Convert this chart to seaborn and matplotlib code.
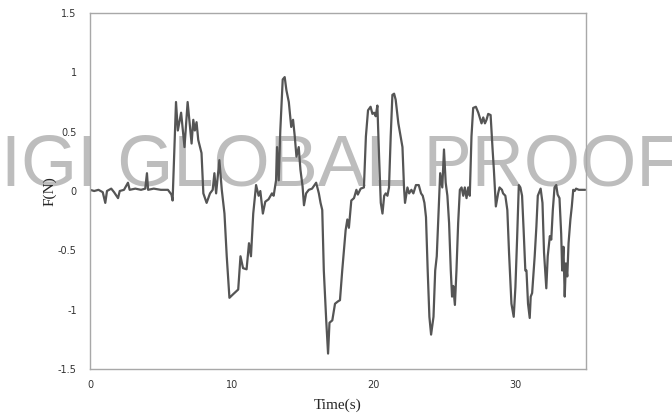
import matplotlib
matplotlib.use('Agg')
import matplotlib.pyplot as plt
import seaborn as sns
import pandas as pd

# force signal
time_s = [0.0, 0.3, 0.6, 0.9, 1.08, 1.2, 1.5, 1.7, 1.98, 2.1, 2.4, 2.68, 2.8, 3.2, 3.6, 3.9,
          4.02, 4.1, 4.5, 5.0, 5.5, 5.75, 5.83, 6.07, 6.2, 6.43, 6.67, 6.89, 7.17, 7.29, 7.4,
          7.52, 7.64, 7.87, 8.0, 8.23, 8.47, 8.66, 8.78, 8.9, 9.13, 9.3, 9.49, 9.65, 9.84,
          10.1, 10.46, 10.62, 10.8, 11.05, 11.22, 11.36, 11.52, 11.72, 11.9, 12.02, 12.2,
          12.37, 12.6, 12.84, 12.96, 13.13, 13.2, 13.32, 13.43, 13.6, 13.74, 13.86, 14.03,
          14.2, 14.33, 14.45, 14.57, 14.73, 14.85, 15.0, 15.1, 15.25, 15.44, 15.67, 15.96,
          16.15, 16.27, 16.39, 16.5, 16.67, 16.8, 16.9, 17.1, 17.29, 17.5, 17.64, 17.8, 18.04,
          18.16, 18.27, 18.44, 18.63, 18.8, 18.9, 19.1, 19.33, 19.47, 19.62, 19.8, 19.93,
          20.05, 20.16, 20.28, 20.4, 20.52, 20.64, 20.76, 20.87, 20.99, 21.1, 21.22, 21.34,
          21.46, 21.57, 21.76, 22.05, 22.16, 22.23, 22.4, 22.52, 22.68, 22.82, 23.0, 23.2,
          23.36, 23.48, 23.6, 23.71, 23.83, 23.95, 24.07, 24.24, 24.36, 24.47, 24.6, 24.71,
          24.86, 24.98, 25.1, 25.22, 25.34, 25.46, 25.55, 25.63, 25.75, 25.86, 25.98, 26.1,
          26.22, 26.34, 26.45, 26.57, 26.69, 26.8, 26.92, 27.04, 27.23, 27.4, 27.63, 27.75,
          27.87, 27.98, 28.1, 28.27, 28.41, 28.5, 28.64, 28.8, 28.9, 29.07, 29.15, 29.31,
          29.45, 29.57, 29.74, 29.9, 30.02, 30.14, 30.26, 30.37, 30.49, 30.6, 30.72, 30.8,
          30.91, 31.03, 31.1, 31.2, 31.38, 31.5, 31.6, 31.8, 31.93, 32.04, 32.2, 32.3, 32.45,
          32.55, 32.66, 32.78, 32.9, 33.0, 33.13, 33.25, 33.32, 33.41, 33.5, 33.58, 33.68,
          33.77, 33.9, 34.0, 34.1, 34.2, 34.3, 34.5, 34.7, 34.95]
force_n = [0.01, 0.0, 0.01, -0.01, -0.10, 0.0, 0.02, -0.01, -0.06, 0.0, 0.01, 0.07, 0.01, 0.02,
           0.01, 0.02, 0.15, 0.01, 0.02, 0.01, 0.01, -0.03, -0.08, 0.75, 0.51, 0.66, 0.37, 0.75,
           0.40, 0.60, 0.51, 0.58, 0.43, 0.32, -0.02, -0.10, -0.02, 0.01, 0.15, -0.02, 0.26,
           0.01, -0.19, -0.55, -0.90, -0.87, -0.83, -0.55, -0.65, -0.66, -0.44, -0.55, -0.19,
           0.05, -0.04, 0.0, -0.19, -0.09, -0.07, -0.02, -0.04, 0.09, 0.37, 0.09, 0.51, 0.94,
           0.96, 0.85, 0.75, 0.54, 0.60, 0.46, 0.29, 0.37, 0.18, 0.04, -0.12, -0.02, 0.01, 0.02,
           0.07, -0.02, -0.10, -0.16, -0.67, -1.09, -1.37, -1.11, -1.09, -0.95, -0.93, -0.92,
           -0.67, -0.33, -0.24, -0.31, -0.08, -0.06, 0.01, -0.03, 0.02, 0.03, 0.46, 0.68, 0.71,
           0.65, 0.66, 0.63, 0.72, 0.29, -0.10, -0.19, -0.04, -0.02, -0.04, 0.03, 0.46, 0.81,
           0.82, 0.77, 0.57, 0.37, 0.03, -0.10, 0.03, -0.02, 0.01, -0.02, 0.05, 0.05, -0.02,
           -0.04, -0.10, -0.22, -0.67, -1.06, -1.21, -1.06, -0.67, -0.55, -0.16, 0.15, 0.03,
           0.35, 0.07, -0.04, -0.27, -0.67, -0.89, -0.80, -0.96, -0.67, -0.27, 0.01, 0.03, -0.04,
           0.03, -0.06, 0.03, -0.04, 0.46, 0.70, 0.71, 0.66, 0.57, 0.62, 0.57, 0.60, 0.65, 0.64,
           0.35, 0.18, -0.13, -0.02, 0.03, 0.01, -0.02, -0.04, -0.16, -0.52, -0.95, -1.06,
           -0.81, -0.40, 0.05, 0.03, -0.04, -0.33, -0.67, -0.67, -0.95, -1.07, -0.89, -0.86,
           -0.55, -0.30, -0.04, 0.02, -0.10, -0.52, -0.82, -0.55, -0.38, -0.41, -0.16, 0.03,
           0.05, -0.03, -0.06, -0.36, -0.67, -0.47, -0.89, -0.61, -0.72, -0.44, -0.24, -0.13,
           0.01, 0.0, 0.02, 0.01, 0.01, 0.01]

x_ticks = [0, 10, 20, 30]
y_ticks = [-1.5, -1, -0.5, 0, 0.5, 1, 1.5]
y_tick_labels = ['-1.5', '-1', '-0.5', '0', '0.5', '1', '1.5']

df = pd.DataFrame({'t': time_s, 'F': force_n})

sns.set_style('white')
fig = plt.figure(figsize=(6.72, 4.17), dpi=100)
ax = fig.add_axes([0.1339, 0.1151, 0.7381, 0.8537])
ax.set_facecolor('none')

sns.lineplot(data=df, x='t', y='F', ax=ax, color='#555555', linewidth=1.6, sort=False)

ax.set_xlim(0, 35)
ax.set_ylim(-1.5, 1.5)
ax.set_xticks(x_ticks)
ax.set_xticklabels([str(v) for v in x_ticks])
ax.set_yticks(y_ticks)
ax.set_yticklabels(y_tick_labels)
for s in ax.spines.values():
    s.set_color('#a8a8a8')
    s.set_linewidth(1.0)
ax.tick_params(axis='x', direction='in', length=3, color='#a8a8a8', labelsize=7,
               labelcolor='#333333', pad=8)
ax.tick_params(axis='y', direction='inout', length=5, color='#a8a8a8', labelsize=7,
               labelcolor='#333333', pad=7)
ax.set_xlabel('Time(s)', fontsize=11, family='Liberation Serif', labelpad=6)
ax.set_ylabel('F(N)', fontsize=11, family='Liberation Serif', labelpad=1)

# watermark behind the axes
fig.text(0.507, 0.556, 'IGI GLOBAL PROOF', ha='center', va='baseline', fontsize=52,
         family='Liberation Sans', color='#bdbdbd', zorder=-1)

fig.savefig('out.png', dpi=100)
